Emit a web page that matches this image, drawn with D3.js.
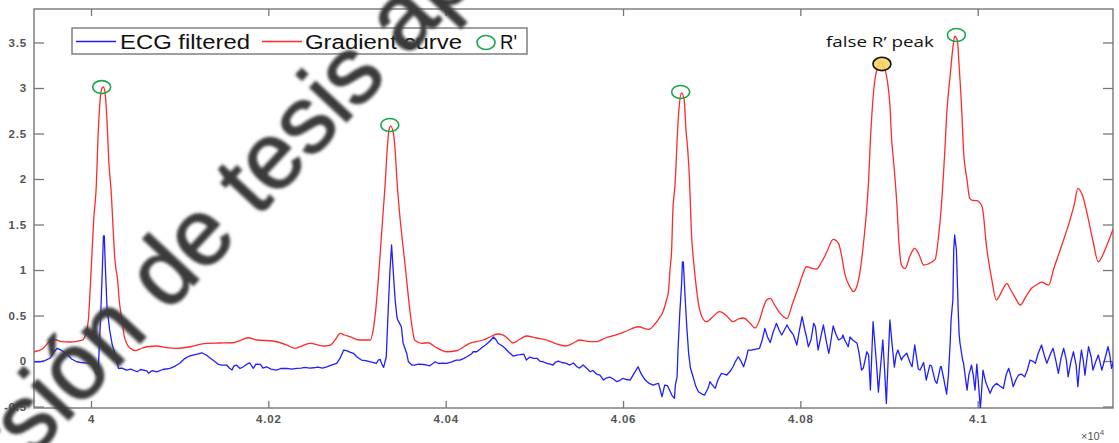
<!DOCTYPE html>
<html>
<head>
<meta charset="utf-8">
<script src="https://cdn.jsdelivr.net/npm/d3@7"></script>
<style>
html,body{margin:0;padding:0;background:#fff;}
svg{display:block;}
</style>
</head>
<body>
<svg id="chart" width="1119" height="443"></svg>
<script>
// ---------------- data ----------------
const xTicks = [40000, 40200, 40400, 40600, 40800, 41000];
const xTickLabels = ["4", "4.02", "4.04", "4.06", "4.08", "4.1"];
const yTicks = [-0.5, 0, 0.5, 1, 1.5, 2, 2.5, 3, 3.5];
const yTickLabels = ["-0.5", "0", "0.5", "1", "1.5", "2", "2.5", "3", "3.5"];
const seriesNames = ["ECG filtered", "Gradient curve", "R'"];
const annotationText = "false R\u2019 peak";
const watermarkText = "Versi\u00f3n de tesis aprobada";

// ECG filtered: [sample, value]
const ecgFiltered = [
[39936,-0.008],[39942,-0.008],[39948,0.005],[39954,0.033],[39958,0.099],[39962,0.140],[39965,0.126],[39969,0.102],[39973,0.077],[39978,0.022],
[39984,-0.008],[39991,-0.019],[39997,-0.022],[40001,-0.033],[40003,-0.066],[40006,-0.143],[40008,-0.154],[40009,0.085],[40011,0.524],[40013,1.074],
[40014,1.374],[40015,1.374],[40016,1.074],[40018,0.597],[40021,0.341],[40024,0.176],[40027,0.085],[40031,-0.080],[40035,-0.077],[40040,-0.099],
[40045,-0.088],[40052,-0.118],[40056,-0.093],[40063,-0.107],[40065,-0.135],[40069,-0.104],[40074,-0.118],[40081,-0.093],[40089,-0.080],[40095,-0.055],
[40100,-0.025],[40106,0.030],[40111,0.055],[40115,0.066],[40120,0.077],[40125,0.091],[40130,0.066],[40135,0.027],[40140,-0.008],[40143,-0.033],
[40147,-0.044],[40153,-0.044],[40156,-0.077],[40159,-0.099],[40161,-0.055],[40164,-0.044],[40168,-0.082],[40172,-0.063],[40176,-0.033],[40179,-0.019],
[40183,-0.080],[40186,-0.033],[40191,-0.036],[40194,-0.077],[40198,-0.063],[40203,-0.088],[40209,-0.099],[40214,-0.082],[40221,-0.080],[40226,-0.088],
[40232,-0.080],[40237,-0.077],[40241,-0.069],[40247,-0.077],[40251,-0.074],[40256,-0.066],[40261,-0.077],[40266,-0.063],[40271,-0.044],[40277,-0.025],
[40281,0.033],[40285,0.121],[40288,0.115],[40292,0.099],[40296,0.085],[40300,0.044],[40305,0.011],[40310,0.005],[40315,-0.008],[40318,-0.016],
[40322,-0.025],[40324,0.011],[40326,0.019],[40328,-0.033],[40330,-0.069],[40333,0.047],[40335,0.524],[40337,0.964],[40339,1.275],[40341,0.964],
[40343,0.670],[40345,0.487],[40346,0.451],[40348,0.414],[40350,0.377],[40352,0.195],[40356,0.085],[40358,-0.008],[40362,-0.044],[40365,-0.044],
[40369,-0.033],[40375,-0.038],[40379,-0.044],[40382,-0.052],[40386,-0.025],[40388,-0.008],[40392,-0.027],[40397,-0.022],[40401,-0.025],[40406,-0.011],
[40412,0.011],[40416,0.011],[40420,0.027],[40424,0.047],[40429,0.077],[40431,0.102],[40435,0.102],[40439,0.132],[40442,0.157],[40445,0.176],
[40450,0.220],[40454,0.264],[40457,0.231],[40459,0.195],[40464,0.165],[40467,0.140],[40471,0.099],[40476,0.055],[40480,0.066],[40484,0.071],
[40488,0.077],[40491,0.011],[40495,0.044],[40499,0.030],[40503,0.030],[40506,0.000],[40510,-0.008],[40514,-0.025],[40518,-0.033],[40521,-0.044],
[40524,-0.011],[40527,0.000],[40531,-0.016],[40536,-0.025],[40540,-0.044],[40544,-0.022],[40548,-0.063],[40551,-0.077],[40555,-0.044],[40559,-0.080],
[40563,-0.118],[40566,-0.104],[40570,-0.143],[40574,-0.154],[40578,-0.209],[40581,-0.187],[40585,-0.176],[40589,-0.198],[40593,-0.227],[40597,-0.209],
[40600,-0.190],[40604,-0.203],[40608,-0.209],[40612,-0.143],[40617,-0.063],[40620,-0.132],[40625,-0.209],[40629,-0.242],[40634,-0.264],[40637,-0.253],
[40640,-0.245],[40644,-0.392],[40647,-0.264],[40650,-0.269],[40653,-0.330],[40655,-0.374],[40658,-0.410],[40659,-0.264],[40661,-0.173],[40662,0.121],
[40664,0.524],[40666,0.835],[40667,1.088],[40668,1.088],[40670,0.707],[40672,0.363],[40674,0.085],[40676,-0.077],[40679,-0.173],[40682,-0.275],
[40685,-0.337],[40689,-0.363],[40692,-0.374],[40696,-0.297],[40698,-0.227],[40700,-0.253],[40704,-0.300],[40707,-0.209],[40711,-0.135],[40714,-0.143],
[40717,-0.154],[40721,-0.110],[40724,-0.063],[40727,0.000],[40730,0.047],[40733,0.000],[40736,-0.063],[40739,0.033],[40741,0.121],[40745,0.121],
[40750,0.132],[40754,0.140],[40757,0.231],[40760,0.359],[40763,0.264],[40766,0.203],[40769,0.308],[40773,0.414],[40776,0.341],[40779,0.286],
[40782,0.341],[40785,0.396],[40788,0.341],[40792,0.291],[40796,0.176],[40799,0.341],[40802,0.487],[40805,0.341],[40807,0.264],[40809,0.157],
[40812,0.231],[40815,0.414],[40817,0.377],[40820,0.121],[40823,0.264],[40826,0.396],[40829,0.231],[40832,0.085],[40833,0.132],[40837,0.385],
[40840,0.297],[40843,0.231],[40847,0.253],[40848,0.286],[40850,0.231],[40854,0.157],[40856,0.264],[40859,0.231],[40864,0.195],[40866,0.099],
[40869,-0.099],[40871,-0.077],[40875,0.102],[40877,0.066],[40879,-0.319],[40882,0.432],[40886,-0.044],[40888,-0.341],[40893,0.231],[40895,-0.099],
[40897,-0.465],[40899,0.011],[40901,0.451],[40903,0.231],[40906,-0.066],[40908,0.066],[40910,0.121],[40914,0.011],[40916,0.047],[40920,0.085],
[40924,-0.025],[40926,-0.063],[40929,0.176],[40933,-0.088],[40935,-0.099],[40939,-0.016],[40942,-0.209],[40946,-0.044],[40948,-0.055],[40952,-0.220],
[40954,-0.245],[40958,-0.063],[40959,-0.063],[40962,-0.209],[40965,-0.363],[40967,-0.154],[40969,0.209],[40970,0.451],[40972,0.670],[40973,1.220],
[40974,1.385],[40976,1.220],[40977,0.890],[40978,0.560],[40979,0.304],[40980,0.198],[40983,0.011],[40984,-0.022],[40988,-0.319],[40990,-0.154],
[40993,-0.044],[40995,-0.154],[40997,-0.319],[40999,-0.033],[41001,-0.264],[41003,-0.527],[41006,-0.099],[41009,-0.231],[41014,-0.355],[41017,-0.286],
[41021,-0.245],[41025,-0.275],[41029,-0.300],[41032,-0.154],[41035,-0.080],[41038,-0.187],[41040,-0.282],[41043,-0.209],[41046,-0.154],[41049,-0.143],
[41053,-0.173],[41056,-0.099],[41059,0.011],[41062,0.000],[41065,-0.025],[41068,0.077],[41072,0.176],[41075,0.066],[41078,-0.025],[41082,0.077],
[41085,0.140],[41088,0.011],[41091,-0.135],[41094,0.033],[41097,0.140],[41100,0.011],[41102,-0.173],[41105,-0.011],[41108,0.102],[41111,-0.044],
[41113,-0.282],[41115,-0.044],[41117,0.121],[41119,0.011],[41121,-0.154],[41123,0.011],[41125,0.157],[41128,0.044],[41130,-0.099],[41133,-0.011],
[41136,0.066],[41138,-0.011],[41140,-0.099],[41144,0.044],[41147,0.157],[41149,0.066],[41151,-0.080],[41153,-0.008]
];

// Gradient curve: [sample, value]
const gradientCurve = [
[39936,0.102],[39945,0.132],[39954,0.220],[39959,0.236],[39967,0.214],[39976,0.209],[39985,0.220],[39991,0.236],[39994,0.297],[39997,0.451],
[39999,0.780],[40001,1.165],[40003,1.549],[40006,1.934],[40008,2.484],[40010,2.835],[40012,2.989],[40014,3.011],[40016,2.934],[40018,2.648],
[40020,2.209],[40023,1.824],[40025,1.440],[40027,1.110],[40030,0.890],[40032,0.648],[40035,0.451],[40037,0.297],[40040,0.198],[40044,0.143],
[40050,0.115],[40055,0.132],[40063,0.157],[40074,0.165],[40085,0.148],[40097,0.140],[40112,0.157],[40130,0.195],[40145,0.198],[40160,0.201],
[40168,0.225],[40177,0.256],[40187,0.231],[40205,0.220],[40221,0.176],[40230,0.140],[40239,0.170],[40247,0.195],[40262,0.165],[40270,0.176],
[40276,0.242],[40281,0.304],[40286,0.286],[40292,0.267],[40303,0.231],[40315,0.231],[40318,0.330],[40321,0.550],[40324,0.890],[40328,1.440],
[40332,1.989],[40334,2.319],[40336,2.538],[40338,2.582],[40341,2.505],[40343,2.319],[40345,1.989],[40348,1.626],[40354,1.077],[40360,0.527],
[40363,0.319],[40365,0.231],[40373,0.195],[40380,0.201],[40388,0.157],[40401,0.102],[40412,0.113],[40427,0.195],[40442,0.231],[40450,0.264],
[40458,0.297],[40465,0.286],[40470,0.247],[40476,0.198],[40484,0.242],[40491,0.275],[40502,0.253],[40514,0.231],[40524,0.192],[40535,0.165],
[40544,0.198],[40551,0.231],[40563,0.214],[40570,0.214],[40580,0.253],[40593,0.291],[40604,0.330],[40617,0.377],[40629,0.348],[40636,0.407],
[40642,0.487],[40645,0.538],[40649,0.670],[40651,0.747],[40653,1.000],[40655,1.256],[40656,1.604],[40659,1.989],[40661,2.429],[40663,2.758],
[40666,2.945],[40669,2.868],[40671,2.538],[40673,2.319],[40675,1.989],[40677,1.440],[40680,1.055],[40683,0.780],[40686,0.582],[40689,0.487],
[40694,0.432],[40701,0.484],[40709,0.542],[40717,0.495],[40724,0.432],[40730,0.462],[40736,0.473],[40743,0.418],[40749,0.363],[40754,0.451],
[40758,0.579],[40762,0.670],[40766,0.689],[40771,0.615],[40777,0.527],[40785,0.469],[40791,0.626],[40798,0.816],[40802,0.934],[40807,1.036],
[40812,1.022],[40818,1.011],[40824,1.088],[40830,1.201],[40837,1.337],[40843,1.293],[40847,1.132],[40850,0.964],[40856,0.813],[40860,0.762],
[40863,0.802],[40867,0.964],[40871,1.275],[40875,1.696],[40877,1.989],[40879,2.429],[40881,2.758],[40884,3.088],[40888,3.242],[40891,3.286],
[40894,3.242],[40898,3.088],[40901,2.813],[40903,2.429],[40905,2.209],[40909,1.696],[40911,1.330],[40914,1.055],[40918,1.016],[40924,1.165],
[40929,1.238],[40934,1.165],[40939,1.055],[40944,1.066],[40952,1.118],[40956,1.385],[40959,1.696],[40961,1.989],[40963,2.319],[40965,2.703],
[40969,3.143],[40972,3.440],[40974,3.571],[40977,3.527],[40979,3.253],[40982,2.758],[40984,2.319],[40988,1.989],[40991,1.788],[40995,1.764],
[40999,1.762],[41005,1.696],[41010,1.256],[41016,0.890],[41021,0.670],[41025,0.725],[41029,0.802],[41033,0.854],[41036,0.802],[41042,0.703],
[41048,0.615],[41054,0.703],[41061,0.802],[41066,0.835],[41072,0.868],[41077,0.846],[41080,0.835],[41086,1.022],[41093,1.220],[41104,1.549],
[41109,1.725],[41113,1.898],[41118,1.824],[41125,1.549],[41130,1.319],[41136,1.091],[41140,1.143],[41145,1.256],[41153,1.458]
];

// detected R' peaks and the false peak: [sample, value]
const rPeaks = [[40012,3.01],[40337,2.593],[40665,2.956],[40976,3.582]];
const falsePeaks = [[40892,3.264]];

// ---------------- layout ----------------
const svg = d3.select("#chart");
const plot = {left: 34, right: 1113, top: 9, bottom: 408};

const x = d3.scaleLinear().domain([39935.7, 41152.6]).range([plot.left, plot.right]);
const y = d3.scaleLinear().domain([-0.516, 3.868]).range([plot.bottom, plot.top]);

svg.append("defs").append("clipPath").attr("id", "clip")
  .append("rect").attr("x", plot.left).attr("y", plot.top)
  .attr("width", plot.right - plot.left).attr("height", plot.bottom - plot.top);

const blur = svg.select("defs").append("filter").attr("id", "wmblur")
  .attr("x", "-10%").attr("y", "-10%").attr("width", "120%").attr("height", "120%");
blur.append("feGaussianBlur").attr("stdDeviation", 1.5);

const axisColor = "#777";
const tickFont = "'Liberation Sans', Arial, sans-serif";

// axes
const xAxis = d3.axisBottom(x).tickValues(xTicks)
  .tickFormat((d, i) => xTickLabels[i]).tickSizeInner(-7).tickSizeOuter(0).tickPadding(7);
const yAxis = d3.axisLeft(y).tickValues(yTicks)
  .tickFormat((d, i) => yTickLabels[i]).tickSizeInner(-10).tickSizeOuter(0).tickPadding(7);
const xAxisTop = d3.axisTop(x).tickValues(xTicks).tickFormat("").tickSizeInner(-7).tickSizeOuter(0);
const yAxisRight = d3.axisRight(y).tickValues(yTicks).tickFormat("").tickSizeInner(-10).tickSizeOuter(0);

function styleAxis(g) {
  g.selectAll("path.domain").remove();
  g.selectAll("line").attr("stroke", axisColor).attr("stroke-width", 1.3);
  g.selectAll("text").attr("fill", "#555").attr("font-family", tickFont)
    .attr("font-size", 11.5).attr("font-weight", "bold").attr("letter-spacing", 0.8);
}

svg.append("g").attr("transform", `translate(0,${plot.bottom})`).call(xAxis).call(styleAxis);
svg.append("g").attr("transform", `translate(${plot.left},0)`).call(yAxis).call(styleAxis);
svg.append("g").attr("transform", `translate(0,${plot.top})`).call(xAxisTop).call(styleAxis);
svg.append("g").attr("transform", `translate(${plot.right},0)`).call(yAxisRight).call(styleAxis);

// box
svg.append("rect").attr("x", plot.left).attr("y", plot.top)
  .attr("width", plot.right - plot.left).attr("height", plot.bottom - plot.top)
  .attr("fill", "none").attr("stroke", axisColor).attr("stroke-width", 1.4);

// exponent label
const expo = svg.append("text").attr("x", 1081).attr("y", 440)
  .attr("font-family", tickFont).attr("font-size", 11).attr("fill", "#555");
expo.append("tspan").text("\u00d710");
expo.append("tspan").attr("dy", -5).attr("font-size", 8).text("4");

// lines
const lines = svg.append("g").attr("clip-path", "url(#clip)");
lines.append("path").datum(gradientCurve)
  .attr("fill", "none").attr("stroke", "#ff2a2a").attr("stroke-width", 1.3)
  .attr("d", d3.line().x(d => x(d[0])).y(d => y(d[1])).curve(d3.curveMonotoneX));
lines.append("path").datum(ecgFiltered)
  .attr("fill", "none").attr("stroke", "#1f1fff").attr("stroke-width", 1.3)
  .attr("stroke-linejoin", "round")
  .attr("d", d3.line().x(d => x(d[0])).y(d => y(d[1])));

// R' markers
svg.append("g").selectAll("ellipse").data(rPeaks).join("ellipse")
  .attr("cx", d => x(d[0])).attr("cy", d => y(d[1]))
  .attr("rx", 9).attr("ry", 6.5)
  .attr("fill", "none").attr("stroke", "#17a84a").attr("stroke-width", 1.6);

// false peak marker + annotation
svg.append("g").selectAll("ellipse").data(falsePeaks).join("ellipse")
  .attr("cx", d => x(d[0])).attr("cy", d => y(d[1]))
  .attr("rx", 9).attr("ry", 6.7)
  .attr("fill", "#f6d365").attr("fill-opacity", 0.9)
  .attr("stroke", "#111").attr("stroke-width", 1.6);
svg.append("g").selectAll("text").data(falsePeaks).join("text")
  .attr("x", d => x(d[0]) - 56).attr("y", d => y(d[1]) - 17)
  .attr("font-family", "'Open Sans', 'Noto Sans', sans-serif").attr("font-size", 14)
  .attr("textLength", 108).attr("lengthAdjust", "spacingAndGlyphs")
  .attr("fill", "#111").text(annotationText);

// legend
const lg = svg.append("g");
lg.append("rect").attr("x", 72).attr("y", 28).attr("width", 455).attr("height", 26)
  .attr("fill", "#fff").attr("stroke", "#777").attr("stroke-width", 1.4);
lg.append("line").attr("x1", 76).attr("x2", 116).attr("y1", 41.5).attr("y2", 41.5)
  .attr("stroke", "#1f1fff").attr("stroke-width", 1.3);
lg.append("line").attr("x1", 262).attr("x2", 302).attr("y1", 41.5).attr("y2", 41.5)
  .attr("stroke", "#ff2a2a").attr("stroke-width", 1.3);
lg.append("ellipse").attr("cx", 486).attr("cy", 42.5).attr("rx", 9).attr("ry", 7)
  .attr("fill", "none").attr("stroke", "#17a84a").attr("stroke-width", 1.6);
const legendText = [[120, 130], [305, 157], [500, 17]];
seriesNames.forEach((name, i) => {
  lg.append("text").attr("x", legendText[i][0]).attr("y", 48.5)
    .attr("font-family", tickFont).attr("font-size", 19.5).attr("fill", "#111")
    .attr("textLength", legendText[i][1]).attr("lengthAdjust", "spacingAndGlyphs")
    .text(name);
});

// watermark
svg.append("text")
  .attr("transform", "translate(-64,562) rotate(-47)")
  .attr("font-family", tickFont).attr("font-size", 94)
  .attr("fill", "#3a3a3a").attr("stroke", "#3a3a3a").attr("stroke-width", 1.5)
  .attr("filter", "url(#wmblur)")
  .text(watermarkText);
</script>
</body>
</html>
